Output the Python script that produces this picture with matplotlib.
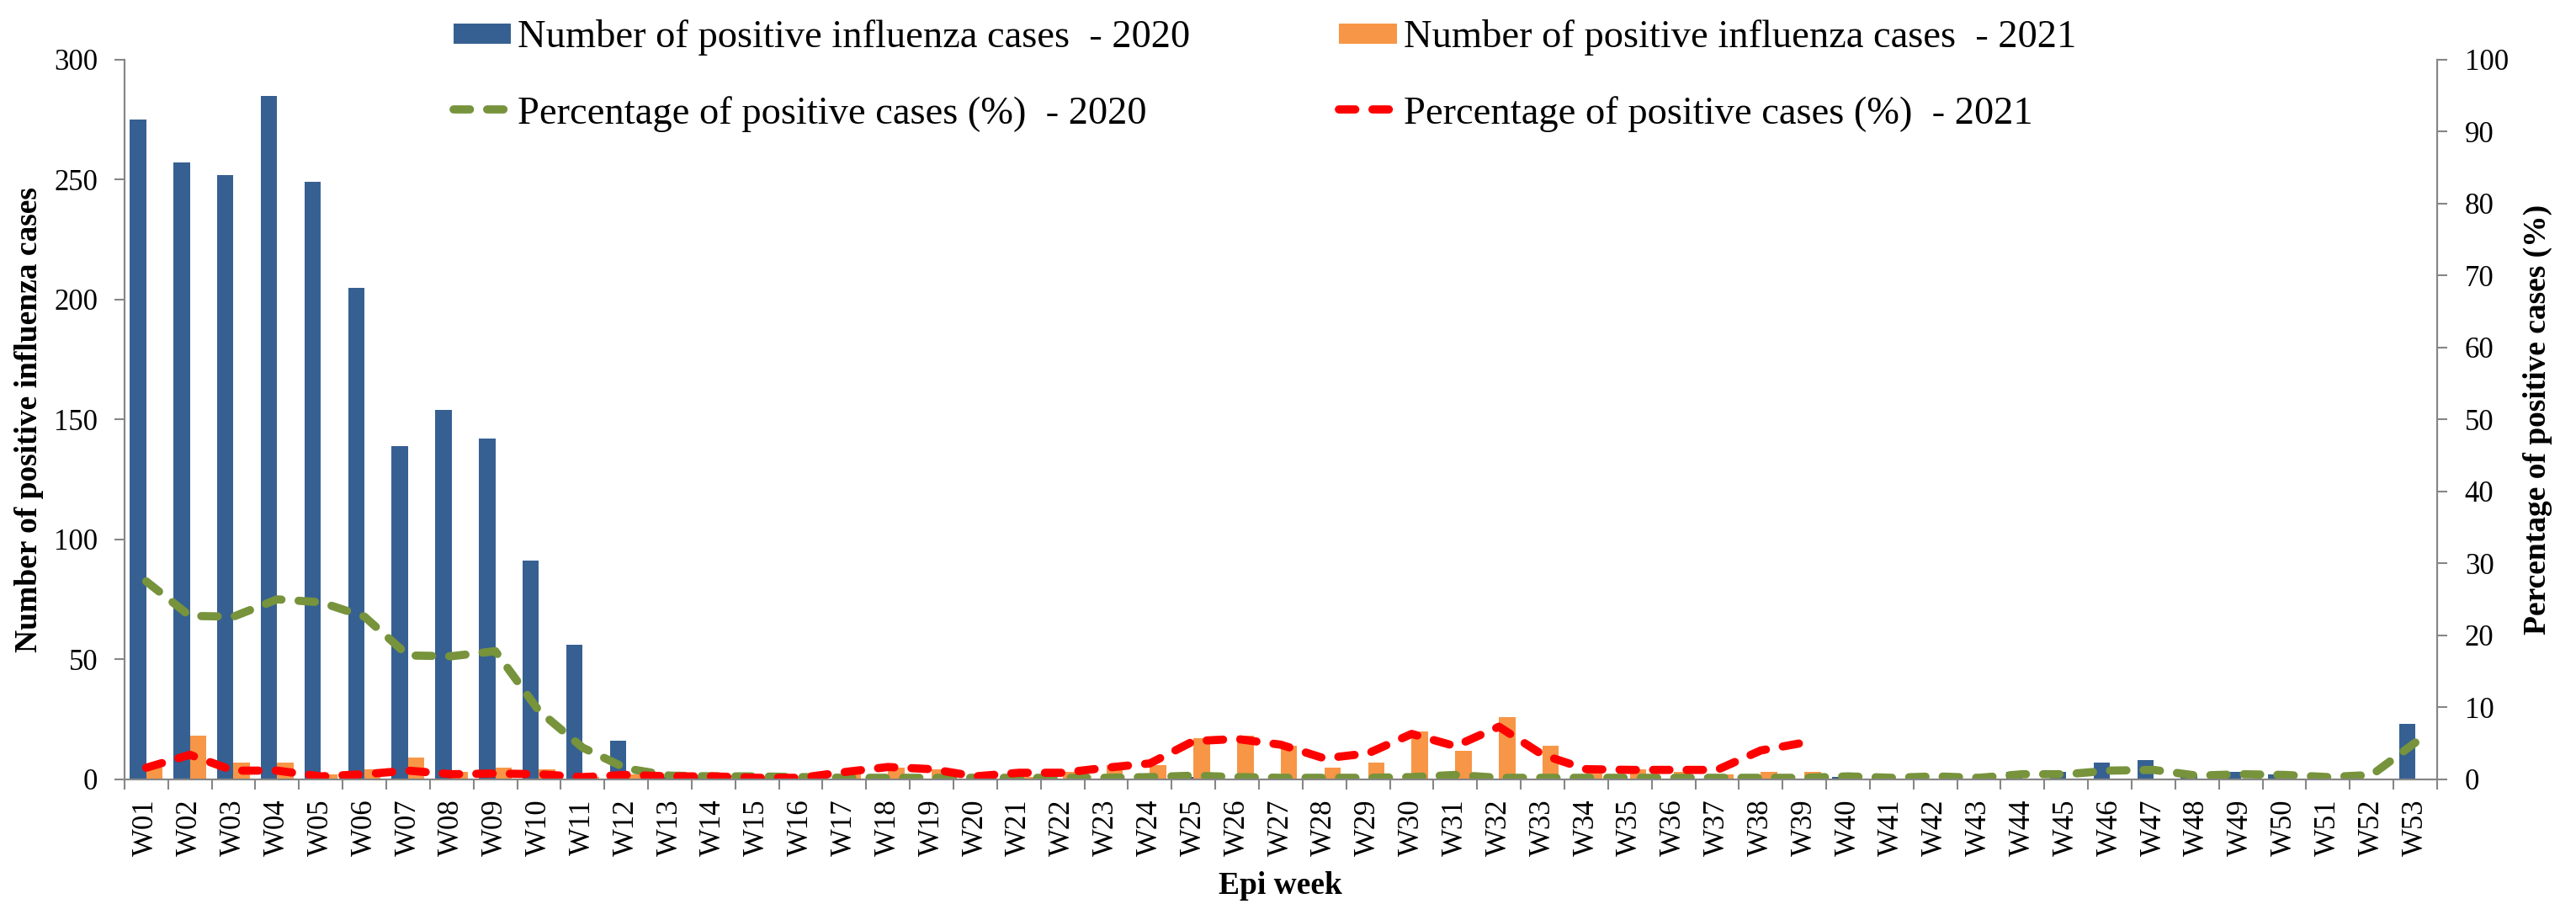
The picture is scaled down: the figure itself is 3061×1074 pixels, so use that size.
import numpy as np
import matplotlib
matplotlib.use("Agg")
import matplotlib.pyplot as plt
import matplotlib.patches as mpatches
from matplotlib.legend_handler import HandlerPatch

plt.rcParams['font.family'] = ['Liberation Serif', 'DejaVu Serif']

# Epi weeks
weeks = [f"W{i:02d}" for i in range(1, 54)]

# Number of positive influenza cases, 2020 (W01-W53)
cases_2020 = [275, 257, 252, 285, 249, 205, 139, 154, 142, 91,
              56, 16, 1, 1, 1, 0, 0, 0, 0, 0,
              0, 0, 0, 0, 1, 0, 0, 0, 0, 0,
              1, 0, 0, 0, 0, 0, 0, 0, 0, 1,
              0, 0, 0, 3, 3, 7, 8, 2, 3, 2,
              1, 0, 23]

# Number of positive influenza cases, 2021 (W01-W39)
cases_2021 = [5, 18, 7, 7, 2, 4, 9, 3, 5, 4,
              1, 2, 1, 1, 1, 0, 3, 5, 4, 1,
              1, 3, 6, 6, 17, 18, 14, 5, 7, 20,
              12, 26, 14, 5, 4, 3, 2, 3, 3]

# Percentage of positive cases (%), 2020 (W01-W53)
pct_2020 = [27.5, 22.7, 22.6, 25.0, 24.6, 22.6, 17.2, 17.1, 17.8, 9.5,
            4.4, 1.5, 0.5, 0.4, 0.4, 0.3, 0.2, 0.2, 0.2, 0.2,
            0.2, 0.2, 0.2, 0.3, 0.5, 0.3, 0.2, 0.2, 0.2, 0.3,
            0.6, 0.2, 0.2, 0.2, 0.2, 0.2, 0.2, 0.2, 0.2, 0.4,
            0.2, 0.4, 0.2, 0.7, 0.7, 1.2, 1.3, 0.5, 0.7, 0.6,
            0.3, 0.6, 5.1]

# Percentage of positive cases (%), 2021 (W01-W39)
pct_2021 = [1.6, 3.4, 1.2, 1.2, 0.4, 0.7, 1.2, 0.7, 0.8, 0.7,
            0.3, 0.6, 0.4, 0.4, 0.2, 0.2, 1.0, 1.7, 1.4, 0.4,
            0.9, 0.9, 1.6, 2.2, 5.3, 5.6, 4.8, 2.9, 3.6, 6.3,
            4.6, 7.3, 3.4, 1.4, 1.3, 1.3, 1.3, 4.0, 5.1]

blue = '#366092'
orange = '#F79646'
green = '#77933C'
red = '#FF0000'
grey = '#868686'

fig = plt.figure(figsize=(30.61, 10.74), dpi=100)
ax = fig.add_axes([0.0483, 0.138, 0.8978, 0.796])

x20 = np.arange(1, len(cases_2020) + 1)
x21 = np.arange(1, len(cases_2021) + 1)
w = 0.375

b1 = ax.bar(x20 - w / 2, cases_2020, width=w, color=blue,
            label='Number of positive influenza cases  - 2020')
b2 = ax.bar(x21 + w / 2, cases_2021, width=w, color=orange,
            label='Number of positive influenza cases  - 2021')

ax.set_xlim(0.5, 53.5)
ax.set_ylim(0, 300)
ax.set_yticks(np.arange(0, 301, 50))

ax.set_xticks(x20)
ax.set_xticklabels(weeks, rotation=90)
ax.set_xticks(np.arange(0.5, 54, 1), minor=True)
ax.tick_params(axis='x', which='major', length=0, pad=17, labelsize=25)
ax.tick_params(axis='x', which='minor', length=8.6, width=1.5, color=grey)
ax.tick_params(axis='y', length=8.6, width=1.5, color=grey, pad=14, labelsize=25)

for s in ['left', 'bottom', 'right']:
    ax.spines[s].set_color(grey)
    ax.spines[s].set_linewidth(1.5)
ax.spines['top'].set_visible(False)

ax.set_ylabel('Number of positive influenza cases', fontsize=27,
              fontweight='bold', va='center')
ax.yaxis.set_label_coords(-0.0411, 0.5)
ax.set_xlabel('Epi week', fontsize=27, fontweight='bold', va='center')
ax.xaxis.set_label_coords(0.5, -0.148)

# Percentages on the right axis
ax2 = ax.twinx()
l1, = ax2.plot(x20, pct_2020, color=green, lw=7, dashes=(2.0, 2.1),
               dash_capstyle='round', solid_capstyle='round',
               label='Percentage of positive cases (%)  - 2020')
l2, = ax2.plot(x21, pct_2021, color=red, lw=7, dashes=(2.0, 2.1),
               dash_capstyle='round', solid_capstyle='round',
               label='Percentage of positive cases (%)  - 2021')
ax2.set_ylim(0, 100)
ax2.set_yticks(np.arange(0, 101, 10))
ax2.tick_params(axis='y', length=8.6, width=1.5, color=grey, pad=15, labelsize=25)
for s in ['left', 'bottom', 'right']:
    ax2.spines[s].set_color(grey)
    ax2.spines[s].set_linewidth(1.5)
ax2.spines['top'].set_visible(False)
ax2.set_ylabel('Percentage of positive cases (%)', fontsize=27,
               fontweight='bold', va='center')
ax2.yaxis.set_label_coords(1.0433, 0.5)


# flatter legend boxes, like the Excel legend
def flat_box(legend, orig_handle, xdescent, ydescent, width, height, fontsize):
    h = height * 0.75
    return mpatches.Rectangle((-xdescent, -ydescent + (height - h) / 2), width, h)


fig.legend(handles=[b1[0], l1, b2[0], l2],
           labels=[b1.get_label(), l1.get_label(), b2.get_label(), l2.get_label()],
           handler_map={mpatches.Rectangle: HandlerPatch(patch_func=flat_box)},
           ncol=2, loc='center', bbox_to_anchor=(0.491, 0.9162),
           frameon=False, fontsize=33.5, handlelength=1.48, handletextpad=0.17,
           columnspacing=3.8, labelspacing=1.02, borderpad=0)

fig.savefig('out.png', dpi=100)
